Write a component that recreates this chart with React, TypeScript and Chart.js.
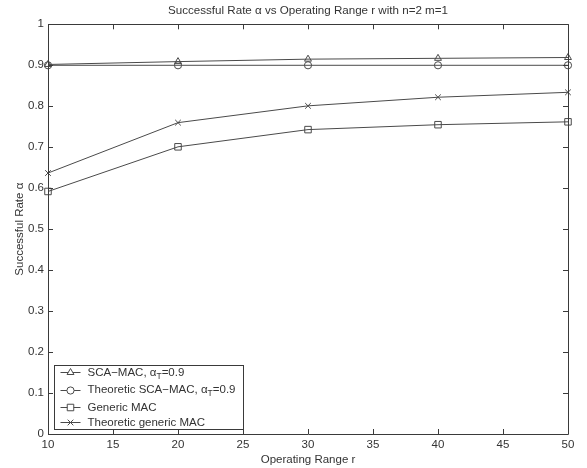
import React, { useEffect, useRef } from 'react';
import { Chart, registerables } from 'chart.js';
import { drawPoint } from 'chart.js/helpers';

Chart.register(...registerables);

const TITLE = 'Successful Rate α vs Operating Range r with n=2 m=1';
const X_TITLE = 'Operating Range r';
const Y_TITLE = 'Successful Rate α';

const ranges = [10, 20, 30, 40, 50];
const scaMac = [0.902, 0.909, 0.915, 0.917, 0.919];
const theoreticScaMac = [0.9, 0.9, 0.9, 0.9, 0.9];
const genericMac = [0.592, 0.701, 0.743, 0.755, 0.762];
const theoreticGenericMac = [0.637, 0.76, 0.801, 0.822, 0.834];

const seriesLabels = [
  'SCA−MAC, α_T=0.9',
  'Theoretic SCA−MAC, α_T=0.9',
  'Generic MAC',
  'Theoretic generic MAC',
];
const seriesValues = [scaMac, theoreticScaMac, genericMac, theoreticGenericMac];
const pointStyles = ['triangle', 'circle', 'rect', 'crossRot'];
const pointRadii = [4, 3.6, 4.6, 4];

const X_MIN = 10;
const X_MAX = 50;
const X_STEP = 5;
const Y_MIN = 0;
const Y_MAX = 1;
const Y_STEP = 0.1;

const FONT = "'Liberation Sans', Arial, Helvetica, sans-serif";
const TEXT = '#333333';
const AXIS = '#3a3a3a';
const LINE = '#4a4a4a';

const boxTicksPlugin = {
  id: 'boxTicks',
  afterDatasetsDraw(chart: any) {
    const ctx = chart.ctx;
    const { left, right, top, bottom } = chart.chartArea;
    const xs = chart.scales.x;
    const ys = chart.scales.y;
    const L = 5;
    ctx.save();
    ctx.strokeStyle = AXIS;
    ctx.lineWidth = 1;
    ctx.beginPath();
    ctx.rect(Math.round(left) + 0.5, Math.round(top) + 0.5, Math.round(right - left), Math.round(bottom - top));
    xs.ticks.forEach((t: any) => {
      const px = Math.round(xs.getPixelForValue(t.value)) + 0.5;
      ctx.moveTo(px, bottom);
      ctx.lineTo(px, bottom - L);
      ctx.moveTo(px, top);
      ctx.lineTo(px, top + L);
    });
    ys.ticks.forEach((t: any) => {
      const py = Math.round(ys.getPixelForValue(t.value)) + 0.5;
      ctx.moveTo(left, py);
      ctx.lineTo(left + L, py);
      ctx.moveTo(right, py);
      ctx.lineTo(right - L, py);
    });
    ctx.stroke();
    ctx.restore();
  },
};

function drawRichText(ctx: CanvasRenderingContext2D, text: string, x: number, y: number) {
  const parts = text.split(/_(.)/);
  let cx = x;
  parts.forEach((p, i) => {
    if (!p) return;
    if (i % 2 === 1) {
      ctx.font = `8.5px ${FONT}`;
      ctx.fillText(p, cx, y + 4);
    } else {
      ctx.font = `11.5px ${FONT}`;
      ctx.fillText(p, cx, y);
    }
    cx += ctx.measureText(p).width;
  });
}

const legendPlugin = {
  id: 'matlabLegend',
  afterDraw(chart: any) {
    const ctx = chart.ctx;
    const { left, bottom } = chart.chartArea;
    const bl = Math.round(left + 6) + 0.5;
    const br = Math.round(left + 195) + 0.5;
    const bb = Math.round(bottom - 5) + 0.5;
    const bt = Math.round(bottom - 69) + 0.5;
    ctx.save();
    ctx.fillStyle = '#ffffff';
    ctx.fillRect(bl, bt, br - bl, bb - bt);
    ctx.strokeStyle = AXIS;
    ctx.lineWidth = 1;
    ctx.strokeRect(bl, bt, br - bl, bb - bt);
    let cy = bt + 6.5;
    chart.data.datasets.forEach((ds: any) => {
      const label: string = ds.label;
      const hasSub = label.includes('_');
      const ly = Math.round(cy) + 0.5;
      ctx.strokeStyle = ds.borderColor;
      ctx.lineWidth = 1;
      ctx.beginPath();
      ctx.moveTo(bl + 6, ly);
      ctx.lineTo(bl + 26, ly);
      ctx.stroke();
      ctx.fillStyle = '#ffffff';
      drawPoint(ctx, {
        pointStyle: ds.pointStyle,
        radius: ds.pointRadius,
        borderWidth: 1,
        rotation: 0,
      } as any, bl + 16, ly);
      ctx.fillStyle = TEXT;
      ctx.textBaseline = 'middle';
      ctx.textAlign = 'left';
      drawRichText(ctx, label, bl + 33, cy + 0.5);
      cy += hasSub ? 17.5 : 15;
    });
    ctx.restore();
  },
};

export default function App() {
  const ref = useRef<HTMLCanvasElement>(null);
  useEffect(() => {
    if (!ref.current) return;
    const chart = new Chart(ref.current, {
      type: 'line',
      data: {
        datasets: seriesValues.map((vals, i) => ({
          label: seriesLabels[i],
          data: ranges.map((x, j) => ({ x, y: vals[j] })),
          borderColor: LINE,
          borderWidth: 1,
          backgroundColor: 'rgba(0,0,0,0)',
          pointStyle: pointStyles[i],
          pointRadius: pointRadii[i],
          pointBorderColor: LINE,
          pointBackgroundColor: 'rgba(0,0,0,0)',
          pointBorderWidth: 1,
          fill: false,
          tension: 0,
          clip: false,
        })) as any,
      },
      options: {
        animation: false,
        responsive: false,
        devicePixelRatio: 1,
        layout: { padding: { left: 0, right: 19, top: 0, bottom: 0 } },
        plugins: {
          legend: { display: false },
          tooltip: { enabled: false },
          title: {
            display: true,
            text: TITLE,
            fullSize: false,
            color: TEXT,
            font: { family: FONT, size: 11.6, weight: 'normal' },
            padding: { top: 3.7, bottom: 6.7 },
          },
        },
        scales: {
          x: {
            type: 'linear',
            min: X_MIN,
            max: X_MAX,
            grid: { display: false, drawTicks: false },
            border: { display: false },
            ticks: {
              stepSize: X_STEP,
              color: TEXT,
              padding: 4,
              font: { family: FONT, size: 11.5 },
              maxRotation: 0,
            },
            title: {
              display: true,
              text: X_TITLE,
              color: TEXT,
              font: { family: FONT, size: 11.5 },
              padding: { top: 0, bottom: 1 },
            },
            afterFit(scale: any) {
              scale.height = 34;
            },
          },
          y: {
            type: 'linear',
            min: Y_MIN,
            max: Y_MAX,
            grid: { display: false, drawTicks: false },
            border: { display: false },
            ticks: {
              stepSize: Y_STEP,
              color: TEXT,
              padding: 4,
              font: { family: FONT, size: 11.5 },
              callback: (v: any) => String(Number(Number(v).toFixed(1))),
            },
            title: {
              display: true,
              text: Y_TITLE,
              color: TEXT,
              font: { family: FONT, size: 11.5 },
              padding: { top: 12.5, bottom: 0 },
            },
            afterFit(scale: any) {
              scale.width = 48;
            },
          },
        },
      } as any,
      plugins: [boxTicksPlugin, legendPlugin],
    });
    return () => chart.destroy();
  }, []);
  return (
    <div style={{ position: 'absolute', left: 0, top: 0, width: 587, height: 468, background: '#fff' }}>
      <canvas ref={ref} width={587} height={468} style={{ display: 'block' }} />
    </div>
  );
}
